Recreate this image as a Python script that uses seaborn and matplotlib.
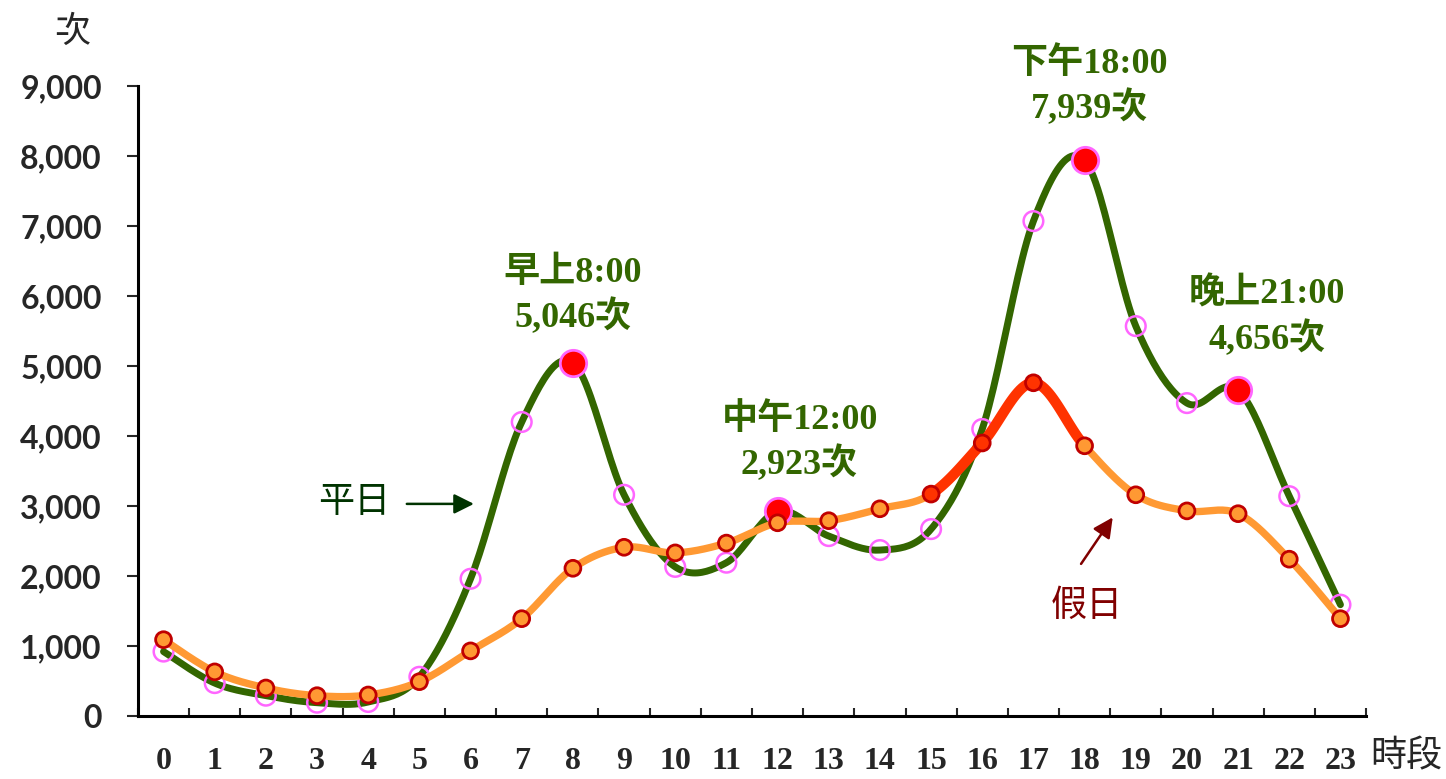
import numpy as np
import pandas as pd
import seaborn as sns
import matplotlib.pyplot as plt

# hourly counts
hours = list(range(24))
weekday = [920, 470, 290, 190, 200, 560, 1960, 4200, 5046, 3160, 2130, 2190,
           2923, 2570, 2370, 2670, 4100, 7070, 7939, 5570, 4470, 4656, 3140, 1590]
holiday = [1090, 630, 400, 290, 300, 490, 930, 1390, 2110, 2410, 2330, 2470,
           2760, 2790, 2960, 3170, 3900, 4760, 3860, 3160, 2930, 2890, 2240, 1390]
peak_hours = [8, 12, 18, 21]
peak_labels = ['早上8:00\n5,046次', '中午12:00\n2,923次', '下午18:00\n7,939次', '晚上21:00\n4,656次']
y_ticks = list(range(0, 9001, 1000))

GREEN = '#336600'
ORANGE = '#FF9933'
HOT = '#FF3300'
PINK = '#FF66FF'
DARKRED = '#C00000'


def smooth(x, y, n=24):
    # Excel-like smoothed line: Catmull-Rom segments as cubic Bezier
    x = np.asarray(x, float)
    y = np.asarray(y, float)
    pts = np.column_stack([x, y])
    ext = np.vstack([pts[0], pts, pts[-1]])
    out = []
    t = np.linspace(0, 1, n)[:, None]
    for i in range(len(pts) - 1):
        p0, p1, p2, p3 = ext[i], ext[i + 1], ext[i + 2], ext[i + 3]
        c1 = p1 + (p2 - p0) / 6
        c2 = p2 - (p3 - p1) / 6
        seg = ((1 - t) ** 3) * p1 + 3 * ((1 - t) ** 2) * t * c1 + 3 * (1 - t) * t ** 2 * c2 + t ** 3 * p2
        out.append(seg if i == 0 else seg[1:])
    s = np.vstack(out)
    return pd.DataFrame({'x': s[:, 0], 'y': s[:, 1]})


sns.set_style('white')
plt.rcParams['font.family'] = ['Liberation Serif', 'Noto Sans CJK TC', 'DejaVu Sans']

fig = plt.figure(figsize=(14.46, 7.79), dpi=100)
ax = fig.add_axes([0.0954, 0.0809, 0.8493, 0.8087])

wk = smooth(hours, weekday)
hd = smooth(hours, holiday)
# the 15-18 stretch of the holiday curve is highlighted
i0, i1 = 15 * 23, 18 * 23 + 1
hd_hot = hd.iloc[i0:i1]

sns.lineplot(data=wk, x='x', y='y', ax=ax, color=GREEN, lw=5, sort=False, zorder=2)
sns.scatterplot(x=hours, y=weekday, ax=ax, s=200, facecolor='none', edgecolor=PINK,
                linewidth=1.8, zorder=3)
sns.lineplot(data=hd, x='x', y='y', ax=ax, color=ORANGE, lw=5.3, sort=False, zorder=4)
sns.lineplot(data=hd_hot, x='x', y='y', ax=ax, color=HOT, lw=7.5, sort=False, zorder=4)
sns.scatterplot(x=peak_hours, y=[weekday[h] for h in peak_hours], ax=ax, s=360,
                color='#FF0000', edgecolor=PINK, linewidth=2, zorder=5)
fills = [HOT if h in (15, 16, 17) else ORANGE for h in hours]
sns.scatterplot(x=hours, y=holiday, ax=ax, s=130, c=fills, edgecolor=DARKRED,
                linewidth=2, zorder=6)

# peak annotations (x, y of block centre in data units)
label_pos = [(8.0, 6000), (12.43, 3900), (18.1, 8990), (21.57, 5700)]
for lab, (lx, ly) in zip(peak_labels, label_pos):
    ax.text(lx, ly, lab, ha='center', va='center', fontsize=26, fontweight='bold',
            color=GREEN, linespacing=1.3, clip_on=False)

ax.annotate('', xy=(6.12, 3030), xytext=(4.7, 3030),
            arrowprops=dict(arrowstyle='-|>', color='#003300', lw=1.8, mutation_scale=30))
ax.text(3.73, 3030, '平日', ha='center', va='center', fontsize=26, color='#003300')
ax.annotate('', xy=(18.58, 2870), xytext=(17.9, 2140),
            arrowprops=dict(arrowstyle='-|>', color='#800000', lw=1.8, mutation_scale=30))
ax.text(18.05, 1560, '假日', ha='center', va='center', fontsize=26, color='#800000')

ax.set_xlim(-0.5, 23.5)
ax.set_ylim(0, 9000)
ax.set_yticks(y_ticks)
ax.set_yticklabels([f'{v:,}' for v in y_ticks], family='Lato', fontweight='bold', fontsize=23)
ax.set_xticks(np.arange(-0.5, 24, 1))
ax.set_xticklabels([])
ax.set_xticks(hours, minor=True)
ax.set_xticklabels([str(h) for h in hours], minor=True, fontsize=23, fontweight='bold')
ax.tick_params(axis='y', direction='out', length=8, width=1.5, pad=18, left=True)
ax.tick_params(axis='x', which='major', direction='in', length=6, width=1.5, bottom=True)
ax.tick_params(axis='x', which='minor', length=0, pad=22)

for side in ['top', 'right']:
    ax.spines[side].set_visible(False)
for side in ['left', 'bottom']:
    ax.spines[side].set_linewidth(2.2)
    ax.spines[side].set_color('black')
ax.set_xlabel('')
ax.set_ylabel('')
ax.grid(False)

fig.text(72 / 1446, 1 - 33 / 779, '次', ha='center', va='center', fontsize=26)
fig.text(1406 / 1446, 1 - 757 / 779, '時段', ha='center', va='center', fontsize=26)

fig.savefig('out.png', dpi=100)
plt.close(fig)
